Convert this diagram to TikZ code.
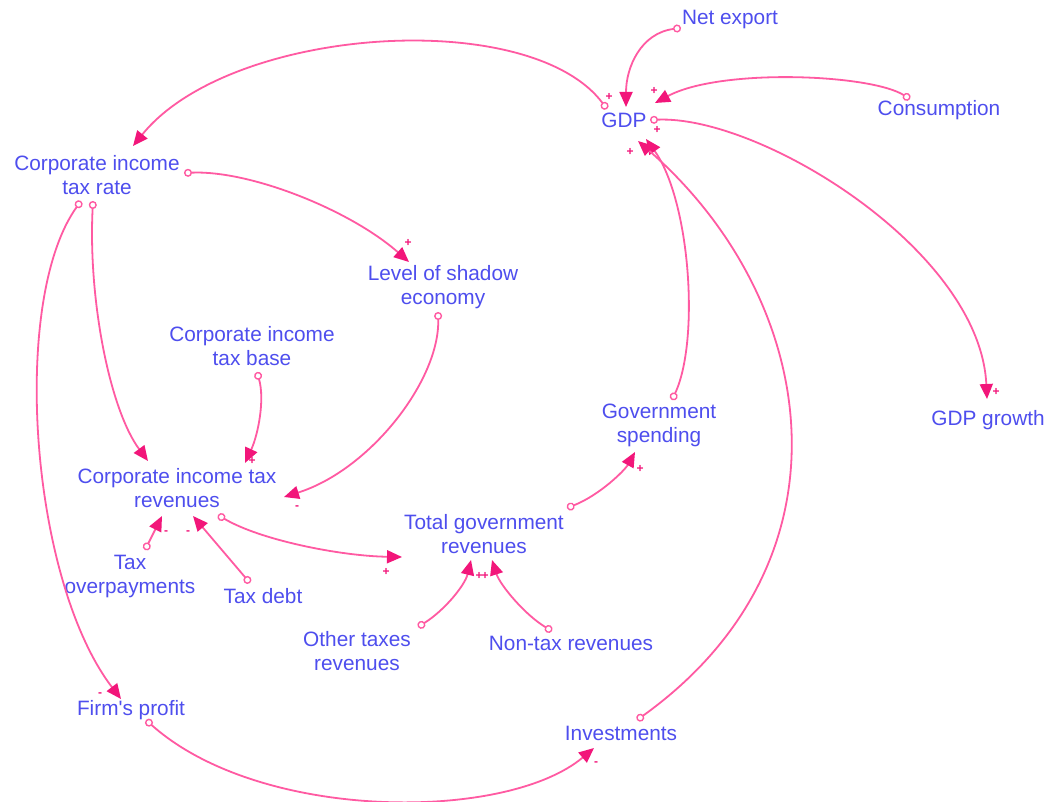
\documentclass[tikz,border=0pt]{standalone}
\usepackage{fontspec}
\setmainfont{Liberation Sans}
\usetikzlibrary{arrows.meta}
\definecolor{txtblue}{RGB}{78,78,238}
\definecolor{linepink}{RGB}{255,90,162}
\definecolor{arrowpink}{RGB}{242,22,122}
\begin{document}
\begin{tikzpicture}[x=1pt,y=-1pt,
  lbl/.style={inner sep=0pt,align=center,text=txtblue,font=\fontsize{20.8}{24}\selectfont},
  sgn/.style={inner sep=0pt,text=arrowpink,font=\fontsize{12}{12}\selectfont\bfseries},
  link/.style={draw=linepink,line width=1.8pt,
    {Circle[open,fill=white,length=8pt,width=8pt,line width=1.4pt]}-{Triangle[length=15pt,width=13pt,color=arrowpink]}}]
\fill[white] (0,0) rectangle (1048,802);
\useasboundingbox (0,0) rectangle (1048,802);

% nodes
\node[lbl] (ne) at (730,20) {Net export};
\node[lbl] (gdp) at (624,120) {GDP};
\node[lbl] (cons) at (939,110) {Consumption};
\node[lbl] (rate) at (97,175) {Corporate income\\tax rate};
\node[lbl] (shadow) at (443,287) {Level of shadow\\economy};
\node[lbl] (base) at (252,346) {Corporate income\\tax base};
\node[lbl] (gov) at (659,425) {Government\\spending};
\node[lbl] (growth) at (988,420) {GDP growth};
\node[lbl] (citr) at (177,488) {Corporate income tax\\revenues};
\node[lbl] (tgr) at (484,534) {Total government\\revenues};
\node[lbl] (over) at (130,576) {Tax\\overpayments};
\node[lbl] (debt) at (263,596) {Tax debt};
\node[lbl] (other) at (357,651) {Other taxes\\revenues};
\node[lbl] (nontax) at (571,643) {Non-tax revenues};
\node[lbl] (firm) at (131,710) {Firm\textquotesingle s profit};
\node[lbl] (inv) at (621,733) {Investments};

% ports
\coordinate (neS) at (681,28);   \coordinate (gdpT1) at (626,107);
\coordinate (consS) at (910,99); \coordinate (gdpT2) at (655,103);
\coordinate (gdpS1) at (607,109); \coordinate (rateT) at (133,146);
\coordinate (gdpS2) at (650,120); \coordinate (growthT) at (987,399);
\coordinate (govS) at (672,400);  \coordinate (gdpB1) at (646,139);
\coordinate (invS) at (637,720);  \coordinate (gdpB2) at (638,141);
\coordinate (rateS1) at (184,173); \coordinate (shadowT) at (409,262);
\coordinate (rateS2) at (93,201);  \coordinate (citrT1) at (148,461);
\coordinate (rateS3) at (81,201);  \coordinate (firmT) at (121,699);
\coordinate (baseS) at (257,372);  \coordinate (citrT2) at (245,463);
\coordinate (shadowS) at (438,312); \coordinate (citrT3) at (284,497);
\coordinate (overS) at (145,550);  \coordinate (citrB1) at (162,516);
\coordinate (debtS) at (250,583);  \coordinate (citrB2) at (193,516);
\coordinate (citrS) at (218,515);  \coordinate (tgrT1) at (402,557);
\coordinate (otherS) at (418,627); \coordinate (tgrB1) at (471,560);
\coordinate (nontaxS) at (552,631); \coordinate (tgrB2) at (492,560);
\coordinate (tgrS) at (567,508);   \coordinate (govT) at (635,452);
\coordinate (firmS) at (146,720);  \coordinate (invT) at (594,748);

% links
\draw[link] (neS) .. controls +(-40,5) and +(0,-40) .. (gdpT1);
\draw[link] (consS) .. controls (870,74) and (720,68) .. (gdpT2);
\draw[link] (gdpS1) .. controls (530,6) and (230,26) .. (rateT);
\draw[link] (gdpS2) .. controls (760,115) and (980,250) .. (growthT);
\draw[link] (govS) .. controls (700,340) and (690,200) .. (gdpB1);
\draw[link] (invS) .. controls (860,560) and (820,300) .. (gdpB2);
\draw[link] (rateS1) .. controls (250,170) and (350,210) .. (shadowT);
\draw[link] (rateS2) .. controls (88,300) and (110,410) .. (citrT1);
\draw[link] (rateS3) .. controls (10,300) and (30,580) .. (firmT);
\draw[link] (baseS) .. controls (265,400) and (258,435) .. (citrT2);
\draw[link] (shadowS) .. controls (440,380) and (370,470) .. (citrT3);
\draw[link] (overS) -- (citrB1);
\draw[link] (debtS) -- (citrB2);
\draw[link] (citrS) .. controls (260,540) and (340,556) .. (tgrT1);
\draw[link] (otherS) .. controls (445,610) and (465,585) .. (tgrB1);
\draw[link] (nontaxS) .. controls (525,615) and (500,585) .. (tgrB2);
\draw[link] (tgrS) .. controls (600,495) and (625,470) .. (govT);
\draw[link] (firmS) .. controls (260,822) and (506,822) .. (invT);

% signs
\node[sgn] (s1) at (609,97) {+};
\node[sgn] (s2) at (654,91) {+};
\node[sgn] (s3) at (657,130) {+};
\node[sgn] (s4) at (630,152) {+};
\node[sgn] (s5) at (996,392) {+};
\node[sgn] (s6) at (408,243) {+};
\node[sgn] (s7) at (252,461) {+};
\node[sgn] (s8) at (297,508) {-};
\node[sgn] (s9) at (166,533) {-};
\node[sgn] (s10) at (188,533) {-};
\node[sgn] (s11) at (386,572) {+};
\node[sgn] (s12) at (479,576) {+};
\node[sgn] (s13) at (485,576) {+};
\node[sgn] (s14) at (640,469) {+};
\node[sgn] (s15) at (100,695) {-};
\node[sgn] (s16) at (596,764) {-};
\end{tikzpicture}
\end{document}
